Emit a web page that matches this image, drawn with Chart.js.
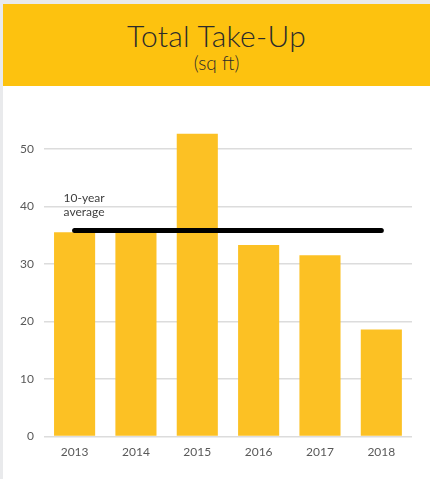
<!DOCTYPE html>
<html>
<head>
<meta charset="utf-8">
<script src="https://cdn.jsdelivr.net/npm/chart.js@4"></script>
<style>
  html, body { margin: 0; padding: 0; background: #e9eaec; }
  #wrap { position: absolute; left: 3px; top: 4px; width: 427px; height: 475px; background: #fff; }
  #head { height: 82px; background: #fdc20f; color: #2b2b2b; text-align: center; font-family: Lato, "Noto Sans", sans-serif; font-weight: 300; }
  #head .t { font-size: 30px; padding-top: 14px; line-height: 34px; letter-spacing: 0.3px; }
  #head .s { font-size: 19px; line-height: 22px; }
  #box { position: relative; width: 427px; height: 393px; }
</style>
</head>
<body>
<div id="wrap">
  <div id="head"><div class="t">Total Take-Up</div><div class="s">(sq ft)</div></div>
  <div id="box"><canvas id="c"></canvas></div>
</div>
<script>
  // values
  var years = ["2013", "2014", "2015", "2016", "2017", "2018"];
  var takeUp = [35.5, 35.5, 52.6, 33.3, 31.5, 18.6];
  var average = [35.8, 35.8, 35.8, 35.8, 35.8, 35.8];
  var averageLabel = ["10-year", "average"];

  var textColor = "#595959";

  // note text above the start of the average line
  var notePlugin = {
    id: "note",
    afterDatasetsDraw: function (chart) {
      var ctx = chart.ctx;
      var x = chart.scales.x.getPixelForValue(0) - 11;
      var y = chart.scales.y.getPixelForValue(average[0]);
      ctx.save();
      ctx.fillStyle = "#404040";
      ctx.font = "12px Lato, 'Open Sans', sans-serif";
      ctx.textBaseline = "alphabetic";
      ctx.fillText(averageLabel[0], x, y - 29);
      ctx.fillText(averageLabel[1], x, y - 15);
      ctx.restore();
    }
  };

  new Chart(document.getElementById("c"), {
    type: "bar",
    data: {
      labels: years,
      datasets: [
        {
          type: "line",
          data: average,
          borderColor: "#000",
          borderWidth: 5,
          borderCapStyle: "round",
          pointRadius: 0,
          fill: false,
          order: 0
        },
        {
          data: takeUp,
          backgroundColor: "#fcc124",
          categoryPercentage: 1,
          barPercentage: 0.67,
          order: 1
        }
      ]
    },
    options: {
      responsive: true,
      maintainAspectRatio: false,
      animation: false,
      layout: { padding: { left: 7, right: 18, top: 34, bottom: 20 } },
      plugins: { legend: { display: false }, tooltip: { enabled: false } },
      scales: {
        x: {
          grid: { display: false },
          border: { display: false },
          ticks: { color: textColor, font: { family: "Lato", size: 12 }, padding: 0 }
        },
        y: {
          min: 0,
          max: 55,
          border: { display: false },
          grid: {
            color: function (c) { return c.tick && c.tick.value % 10 === 0 ? "#dcdcdc" : "rgba(0,0,0,0)"; },
            lineWidth: 1.5,
            drawTicks: false
          },
          ticks: {
            stepSize: 10,
            color: textColor,
            padding: 10,
            font: { family: "Lato", size: 12 },
            callback: function (v) { return v % 10 === 0 ? v : ""; }
          }
        }
      }
    },
    plugins: [notePlugin]
  });
</script>
</body>
</html>
